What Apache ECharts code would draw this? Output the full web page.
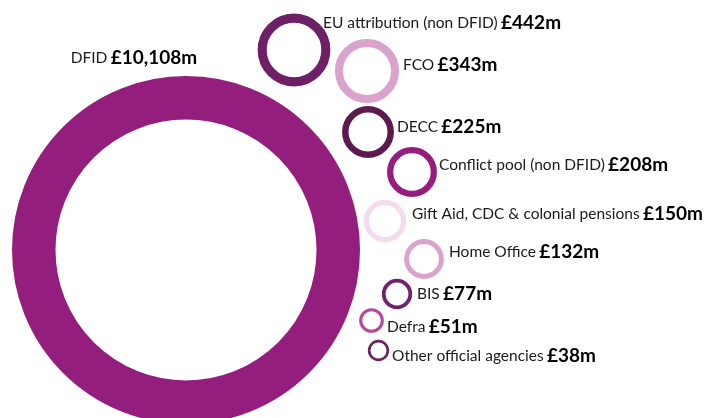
<!DOCTYPE html>
<html>
<head>
<meta charset="utf-8">
<script src="https://cdn.jsdelivr.net/npm/echarts@6/dist/echarts.min.js"></script>
<style>
  html, body { margin: 0; padding: 0; background: #fff; }
  #chart { width: 707px; height: 418px; }
</style>
</head>
<body>
<div id="chart"></div>
<script>
// departments and spend (£m)
const names = ['DFID', 'EU attribution (non DFID)', 'FCO', 'DECC', 'Conflict pool (non DFID)',
  'Gift Aid, CDC & colonial pensions', 'Home Office', 'BIS', 'Defra', 'Other official agencies'];
const values = [10108, 442, 343, 225, 208, 150, 132, 77, 51, 38];

// layout: ring centres and label anchors (pixels), colours
const centerX = [186, 294, 367, 368, 412, 385, 424, 397, 371.5, 378.5];
const centerY = [250, 50, 71, 132, 172, 221, 259, 294, 320.5, 350.5];
const labelX = [70.7, 323, 403, 397, 439, 412, 449, 417, 387, 392];
const labelY = [58, 23, 65, 127, 165, 214, 252, 294, 327, 356];
const colors = ['#941e7d', '#6e2067', '#d9a3cb', '#5c1a4e', '#951d7d',
  '#f4dcec', '#d9a3cb', '#72226a', '#b44a9b', '#6b2260'];

const maxR = 174;      // outer radius of largest ring
const ringRatio = 0.25; // ring thickness / outer radius

// area of ring ~ value
function radius(v) {
  return maxR * Math.sqrt(v / Math.max.apply(null, values));
}

const chart = echarts.init(document.getElementById('chart'), null, { renderer: 'canvas' });

const data = values.map((v, i) => {
  const R = radius(v);
  const t = R * ringRatio;
  return {
    name: names[i],
    value: [centerX[i], centerY[i], v],
    symbolSize: 2 * R - t,
    itemStyle: {
      color: 'rgba(0,0,0,0)',
      borderColor: colors[i],
      borderWidth: t,
      opacity: 1
    },
    label: {
      // 'right' anchors at the outer edge, vertically centred
      offset: [labelX[i] - (centerX[i] + R), labelY[i] - centerY[i]]
    }
  };
});

chart.setOption({
  animation: false,
  grid: { left: 0, right: 0, top: 0, bottom: 0 },
  xAxis: { type: 'value', min: 0, max: 707, show: false },
  yAxis: { type: 'value', min: 0, max: 418, inverse: true, show: false },
  series: [{
    type: 'scatter',
    symbol: 'circle',
    data: data,
    label: {
      show: true,
      position: 'right',
      distance: 0,
      align: 'left',
      verticalAlign: 'middle',
      formatter: p => '{n|' + p.name + '} {b|£' + p.value[2].toLocaleString('en-GB') + 'm}',
      rich: {
        n: { fontFamily: 'Lato', fontSize: 15.5, color: '#1a1a1a' },
        b: { fontFamily: 'Lato', fontSize: 19, fontWeight: 'bold', color: '#000' }
      }
    }
  }]
});
</script>
</body>
</html>
